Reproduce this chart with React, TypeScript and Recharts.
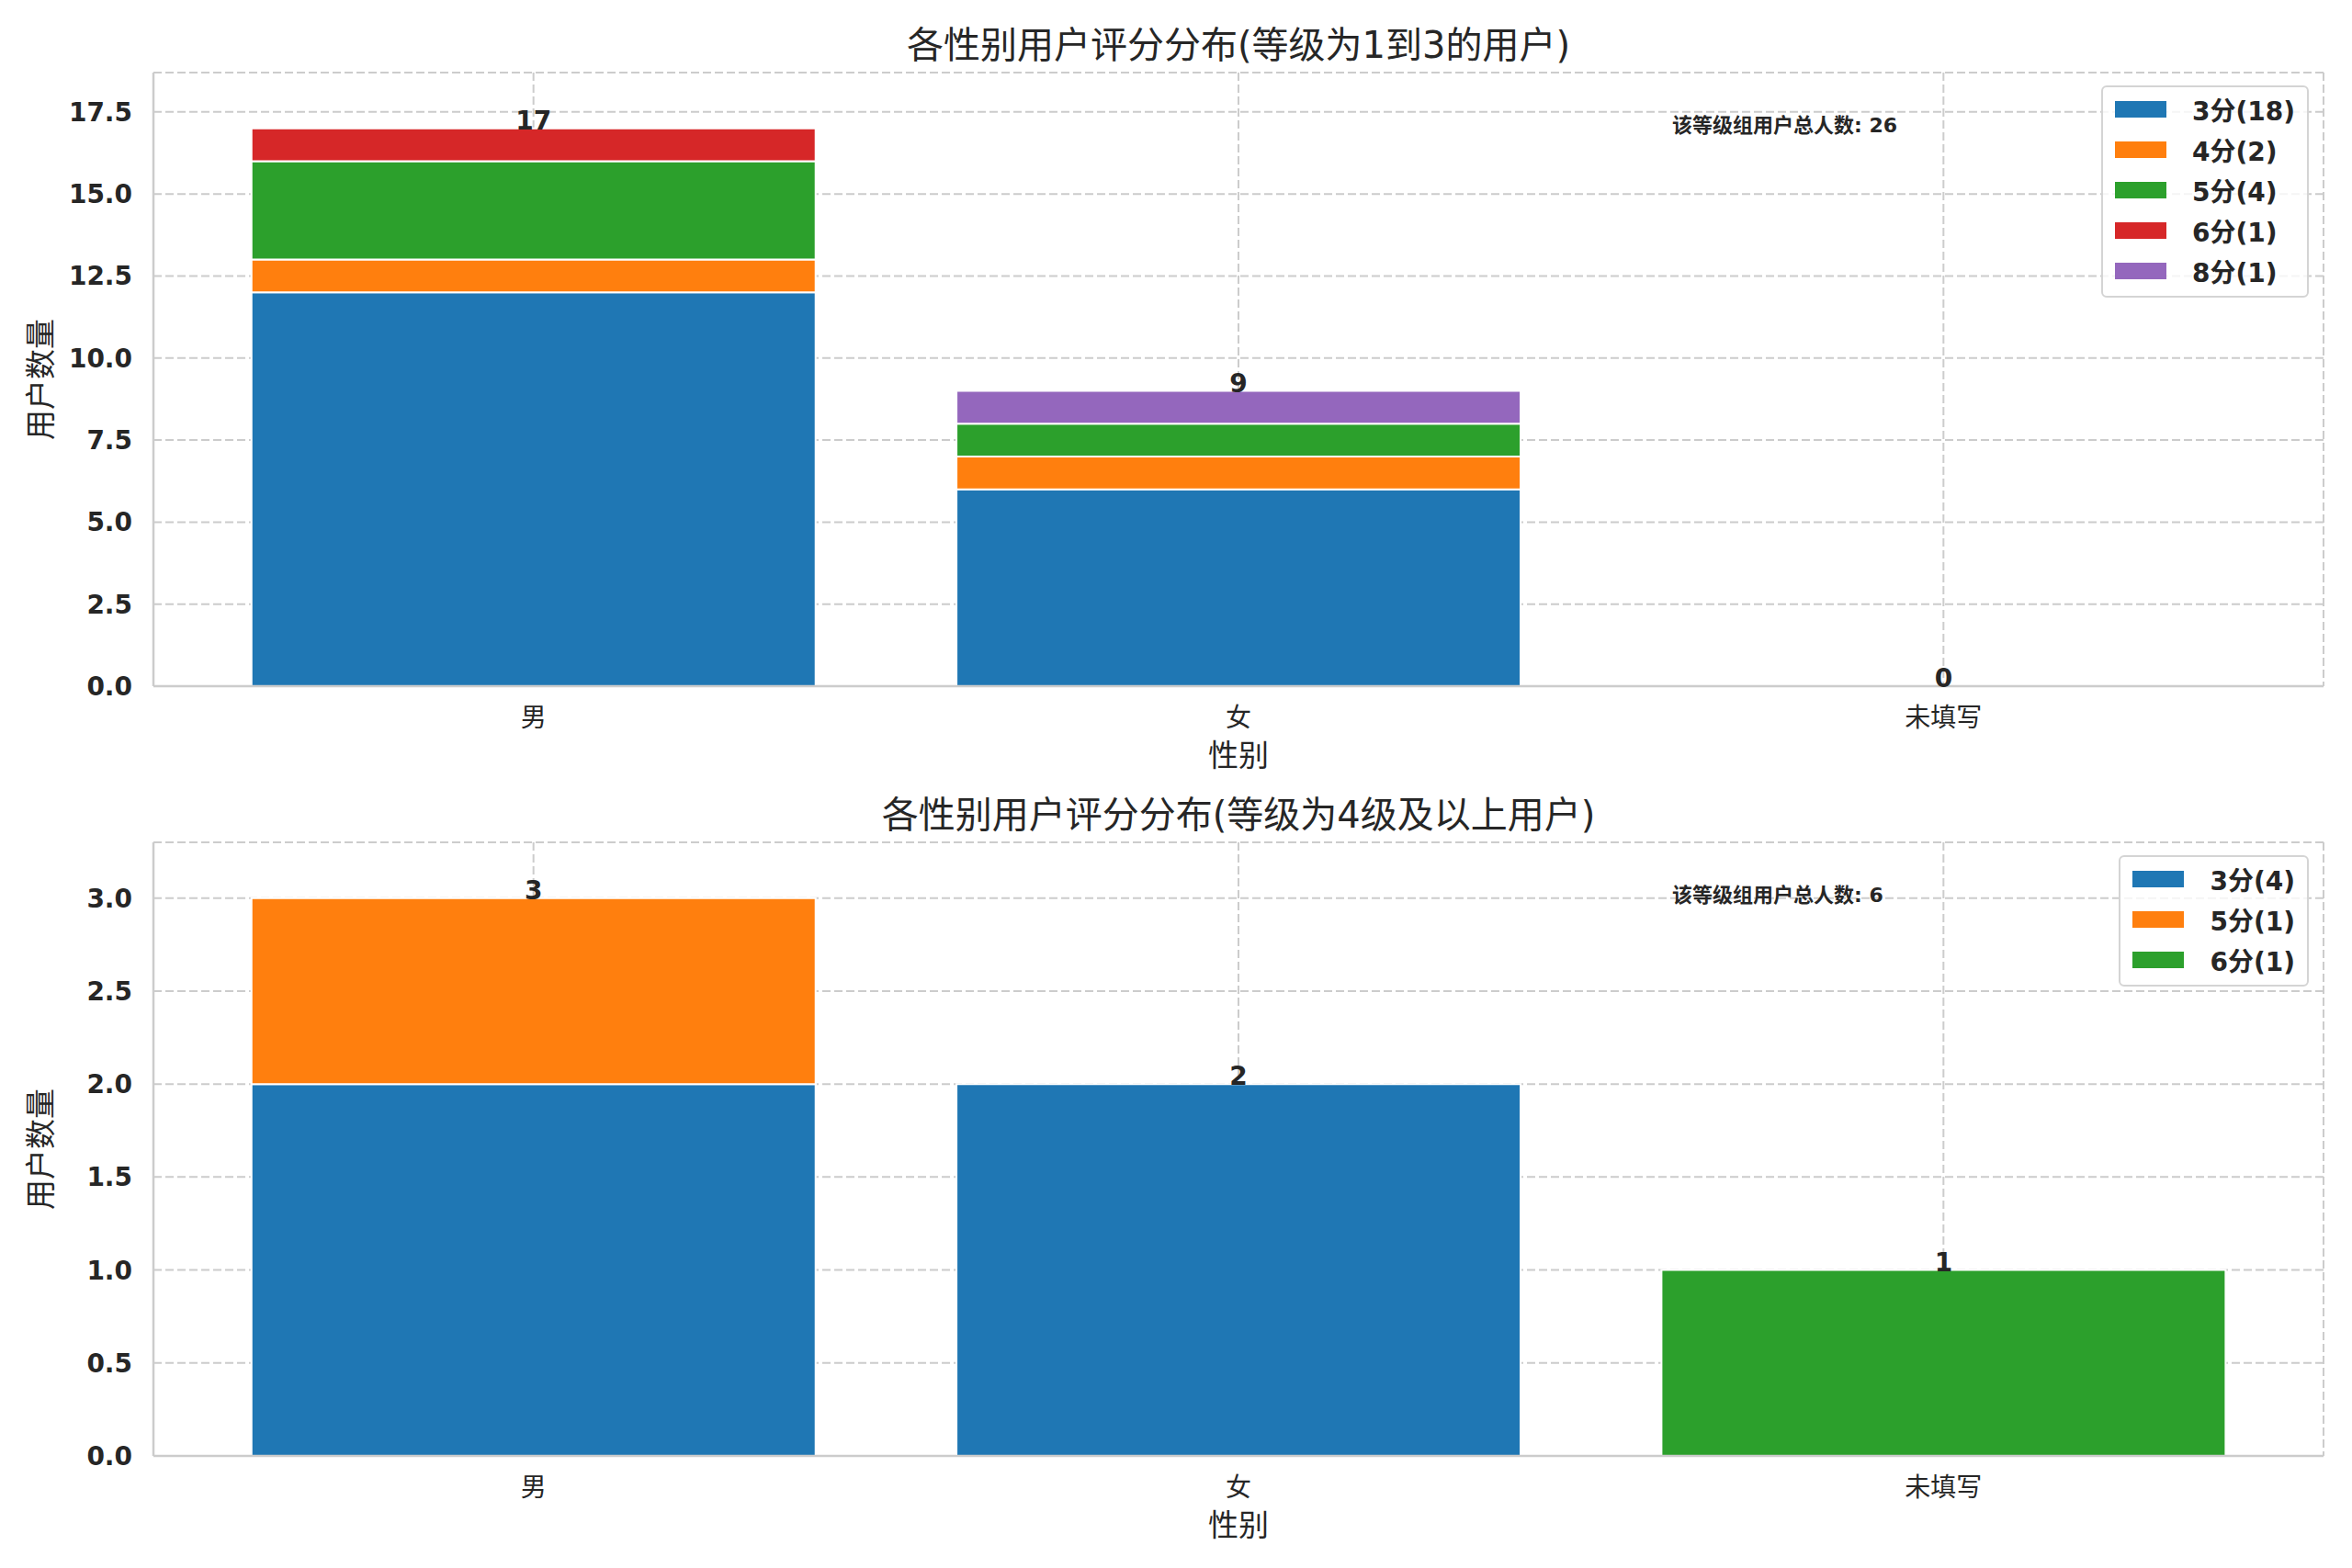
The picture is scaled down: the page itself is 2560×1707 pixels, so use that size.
import React from 'react';
import { BarChart, Bar, XAxis, YAxis, CartesianGrid, LabelList, Label } from 'recharts';

const categories = ['男', '女', '未填写'];

// rank 1-3 group
const topScoreNames = ['3分', '4分', '5分', '6分', '8分'];
const topScore3 = [12, 6, 0];
const topScore4 = [1, 1, 0];
const topScore5 = [3, 1, 0];
const topScore6 = [1, 0, 0];
const topScore8 = [0, 1, 0];
const topTicks = [0, 2.5, 5, 7.5, 10, 12.5, 15, 17.5];

// rank 4+ group
const bottomScoreNames = ['3分', '5分', '6分'];
const bottomScore3 = [2, 2, 0];
const bottomScore5 = [1, 0, 0];
const bottomScore6 = [0, 0, 1];
const bottomTicks = [0, 0.5, 1, 1.5, 2, 2.5, 3];

const palette = ['#1f77b4', '#ff7f0e', '#2ca02c', '#d62728', '#9467bd'];

const FONT = '"DejaVu Sans", "Noto Sans CJK SC", sans-serif';
const INK = '#262626';
const SPINE = '#cccccc';

const buildRows = (series: number[][]) =>
    categories.map((c, i) => {
        const row: any = { category: c, cap: 0, total: 0 };
        series.forEach((s, k) => {
            row['s' + k] = s[i];
            row.total += s[i];
        });
        return row;
    });

const sum = (a: number[]) => a.reduce((p, v) => p + v, 0);

const LegendBox = ({ names, series, top }: { names: string[]; series: number[][]; top: number }) => (
    <div
        style={{
            position: 'absolute',
            right: 47,
            top,
            border: '2.5px solid #d4d4d4',
            borderRadius: 6,
            background: 'rgba(255,255,255,0.8)',
            padding: '2px 13px 5px 13px',
            fontFamily: FONT,
        }}
    >
        {names.map((n, k) => (
            <div key={n} style={{ display: 'flex', alignItems: 'center', height: 44 }}>
                <span style={{ display: 'inline-block', width: 56, height: 18, background: palette[k], marginRight: 28 }} />
                <span style={{ fontSize: 28, fontWeight: 'bold', color: INK, whiteSpace: 'nowrap' }}>
                    {`${n}(${sum(series[k])})`}
                </span>
            </div>
        ))}
    </div>
);

const renderTotal = (p: any) => (
    <text
        x={p.x + p.width / 2}
        y={p.y + 2}
        textAnchor="middle"
        fontSize={28}
        fontWeight="bold"
        fontFamily={FONT}
        fill={INK}
    >
        {p.value}
    </text>
);

interface PanelProps {
    top: number;
    height: number;
    marginTop: number;
    title: string;
    note: string;
    names: string[];
    series: number[][];
    ticks: number[];
    yMax: number;
}

const Panel = ({ top, height, marginTop, title, note, names, series, ticks, yMax }: PanelProps) => {
    const rows = buildRows(series);
    return (
        <div style={{ position: 'absolute', left: 0, top, width: 2560, height }}>
            <div
                style={{
                    position: 'absolute',
                    left: 167,
                    width: 2362,
                    top: marginTop - 50,
                    textAlign: 'center',
                    fontSize: 40,
                    lineHeight: '40px',
                    color: INK,
                    fontFamily: FONT,
                }}
            >
                {title}
            </div>
            <BarChart
                width={2560}
                height={height}
                data={rows}
                margin={{ top: marginTop, right: 31, bottom: 0, left: 0 }}
                barCategoryGap="10%"
            >
                <CartesianGrid stroke="#cccccc" strokeWidth={2} strokeDasharray="9 4" />
                <XAxis
                    dataKey="category"
                    height={106}
                    padding={{ left: 30, right: 30 }}
                    tickLine={false}
                    tickSize={0}
                    tickMargin={24}
                    axisLine={{ stroke: SPINE, strokeWidth: 2.5 }}
                    tick={{ fontSize: 28, fill: INK, fontFamily: FONT }}
                >
                    <Label
                        content={(p: any) => (
                            <text
                                x={p.viewBox.x + p.viewBox.width / 2}
                                y={p.viewBox.y + 77}
                                textAnchor="middle"
                                dominantBaseline="middle"
                                fontSize={33}
                                fontFamily={FONT}
                                fill={INK}
                            >
                                性别
                            </text>
                        )}
                    />
                </XAxis>
                <XAxis
                    xAxisId="frame"
                    dataKey="category"
                    orientation="top"
                    height={0}
                    tick={false}
                    tickLine={false}
                    axisLine={{ stroke: SPINE, strokeWidth: 2.5 }}
                />
                <YAxis
                    width={167}
                    domain={[0, yMax]}
                    ticks={ticks}
                    interval={0}
                    tickFormatter={(v: number) => v.toFixed(1)}
                    tickLine={false}
                    tickSize={0}
                    tickMargin={23}
                    axisLine={{ stroke: SPINE, strokeWidth: 2.5 }}
                    tick={{ fontSize: 28, fontWeight: 'bold', fill: INK, fontFamily: FONT }}
                >
                    <Label
                        content={(p: any) => {
                            const cy = p.viewBox.y + p.viewBox.height / 2;
                            return (
                                <text
                                    x={46}
                                    y={cy}
                                    transform={`rotate(-90 46 ${cy})`}
                                    textAnchor="middle"
                                    dominantBaseline="middle"
                                    fontSize={33}
                                    fontFamily={FONT}
                                    fill={INK}
                                >
                                    用户数量
                                </text>
                            );
                        }}
                    />
                </YAxis>
                <YAxis
                    yAxisId="frame"
                    orientation="right"
                    width={0}
                    domain={[0, yMax]}
                    tick={false}
                    tickLine={false}
                    axisLine={{ stroke: SPINE, strokeWidth: 2.5 }}
                />
                {series.map((s, k) => (
                    <Bar
                        key={k}
                        dataKey={'s' + k}
                        stackId="a"
                        fill={palette[k]}
                        stroke="#ffffff"
                        strokeWidth={2}
                        isAnimationActive={false}
                    />
                ))}
                <Bar
                    dataKey="cap"
                    stackId="a"
                    fill="transparent"
                    minPointSize={1}
                    isAnimationActive={false}
                >
                    <LabelList dataKey="total" content={renderTotal} />
                </Bar>
            </BarChart>
            <LegendBox names={names} series={series} top={marginTop + 14} />
            <div
                style={{
                    position: 'absolute',
                    left: 1820,
                    top: marginTop + 47,
                    fontSize: 22,
                    lineHeight: '22px',
                    fontWeight: 'bold',
                    color: INK,
                    fontFamily: FONT,
                    whiteSpace: 'nowrap',
                }}
            >
                {note}
            </div>
        </div>
    );
};

const App = () => {
    const topSeries = [topScore3, topScore4, topScore5, topScore6, topScore8];
    const bottomSeries = [bottomScore3, bottomScore5, bottomScore6];
    return (
        <div style={{ position: 'absolute', left: 0, top: 0, width: 2560, height: 1707, background: '#ffffff' }}>
            <Panel
                top={0}
                height={853}
                marginTop={79}
                title="各性别用户评分分布(等级为1到3的用户)"
                note={`该等级组用户总人数: ${sum(topSeries.map(sum))}`}
                names={topScoreNames}
                series={topSeries}
                ticks={topTicks}
                yMax={18.7}
            />
            <Panel
                top={853}
                height={838}
                marginTop={64}
                title="各性别用户评分分布(等级为4级及以上用户)"
                note={`该等级组用户总人数: ${sum(bottomSeries.map(sum))}`}
                names={bottomScoreNames}
                series={bottomSeries}
                ticks={bottomTicks}
                yMax={3.3}
            />
        </div>
    );
};

export default App;
